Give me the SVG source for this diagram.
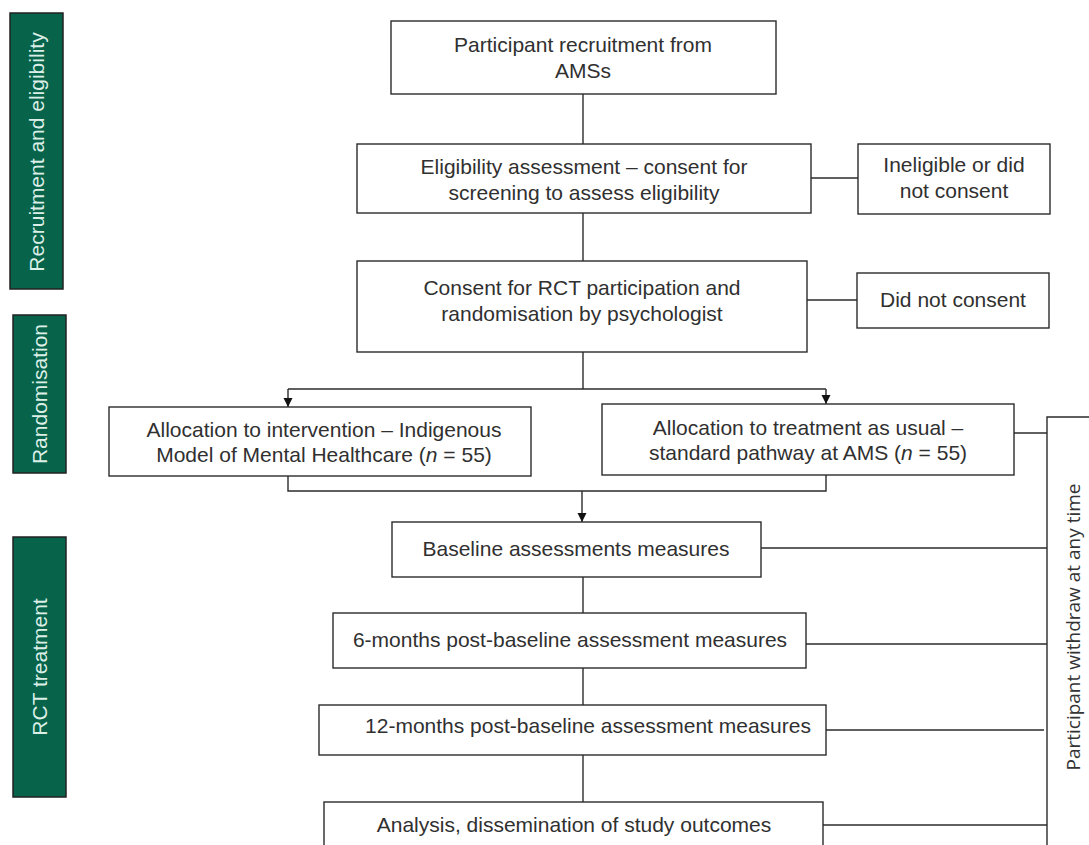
<svg xmlns="http://www.w3.org/2000/svg" width="1089" height="845" viewBox="0 0 1089 845">
<style>
.box{fill:#fff;stroke:#2b2b2b;stroke-width:1.4}
.phase{fill:#07634a;stroke:#222;stroke-width:1.5}
.t{font-family:"Liberation Sans",Arial,sans-serif;font-size:21px;fill:#303030;text-anchor:middle}
.pt{font-family:"Liberation Sans",Arial,sans-serif;font-size:21px;fill:#dcefe7;text-anchor:middle}
.wt{font-family:"Open Sans","Liberation Sans",sans-serif;font-size:19px;fill:#333;text-anchor:middle}
.c{fill:none;stroke:#2b2b2b;stroke-width:1.4}
</style>
<defs>
<marker id="ah" markerWidth="10" markerHeight="10" refX="9" refY="5" orient="auto" markerUnits="userSpaceOnUse">
<path d="M0,0.5 L9,5 L0,9.5 Z" fill="#111"/>
</marker>
</defs>
<rect width="1089" height="845" fill="#fff"/>

<g id="phase-recruitment">
<rect class="phase" x="10" y="13" width="53" height="276"/>
<text class="pt" transform="translate(43.5,152) rotate(-90)">Recruitment and eligibility</text>
</g>
<g id="phase-randomisation">
<rect class="phase" x="13" y="315" width="53" height="158"/>
<text class="pt" transform="translate(46.5,394) rotate(-90)">Randomisation</text>
</g>
<g id="phase-rct">
<rect class="phase" x="13" y="537" width="53" height="260"/>
<text class="pt" transform="translate(46.5,667) rotate(-90)">RCT treatment</text>
</g>

<g id="connectors">
<path class="c" d="M583,94 V144"/>
<path class="c" d="M583,213 V261"/>
<path class="c" d="M811,178 H858"/>
<path class="c" d="M807,300 H857"/>
<path class="c" d="M583,352 V389"/>
<path class="c" d="M288,389 H826"/>
<path class="c" d="M288,389 V407" marker-end="url(#ah)"/>
<path class="c" d="M826,389 V404" marker-end="url(#ah)"/>
<path class="c" d="M288,476 V491 H826 V475"/>
<path class="c" d="M582,491 V522" marker-end="url(#ah)"/>
<path class="c" d="M583,577 V613"/>
<path class="c" d="M583,668 V705"/>
<path class="c" d="M583,755 V802"/>
<path class="c" d="M1014,433 H1047"/>
<path class="c" d="M761,548 H1047"/>
<path class="c" d="M806,644 H1047"/>
<path class="c" d="M826,730 H1044"/>
<path class="c" d="M823,825 H1047"/>
</g>

<g id="n-recruitment">
<rect class="box" x="391" y="21" width="385" height="73"/>
<text class="t" x="583" y="52">Participant recruitment from</text>
<text class="t" x="583" y="78">AMSs</text>
</g>
<g id="n-eligibility">
<rect class="box" x="357" y="144" width="454" height="69"/>
<text class="t" x="584" y="174">Eligibility assessment – consent for</text>
<text class="t" x="584" y="200">screening to assess eligibility</text>
</g>
<g id="n-ineligible">
<rect class="box" x="858" y="144" width="192" height="70"/>
<text class="t" x="954" y="172">Ineligible or did</text>
<text class="t" x="954" y="198">not consent</text>
</g>
<g id="n-consent">
<rect class="box" x="357" y="261" width="450" height="91"/>
<text class="t" x="582" y="295">Consent for RCT participation and</text>
<text class="t" x="582" y="321">randomisation by psychologist</text>
</g>
<g id="n-did-not-consent">
<rect class="box" x="857" y="273" width="192" height="55"/>
<text class="t" x="953" y="307">Did not consent</text>
</g>
<g id="n-intervention">
<rect class="box" x="109" y="407" width="422" height="69"/>
<text class="t" x="324" y="437">Allocation to intervention – Indigenous</text>
<text class="t" x="324" y="462">Model of Mental Healthcare (<tspan font-style="italic">n</tspan> = 55)</text>
</g>
<g id="n-tau">
<rect class="box" x="602" y="404" width="412" height="71"/>
<text class="t" x="808" y="435">Allocation to treatment as usual –</text>
<text class="t" x="808" y="460">standard pathway at AMS (<tspan font-style="italic">n</tspan> = 55)</text>
</g>
<g id="n-baseline">
<rect class="box" x="392" y="522" width="369" height="55"/>
<text class="t" x="576" y="556">Baseline assessments measures</text>
</g>
<g id="n-6months">
<rect class="box" x="333" y="613" width="473" height="55"/>
<text class="t" x="570" y="647">6-months post-baseline assessment measures</text>
</g>
<g id="n-12months">
<rect class="box" x="319" y="705" width="507" height="50"/>
<text class="t" x="588" y="733">12-months post-baseline assessment measures</text>
</g>
<g id="n-analysis">
<rect class="box" x="324" y="802" width="499" height="60"/>
<text class="t" x="574" y="832">Analysis, dissemination of study outcomes</text>
</g>
<g id="n-withdraw">
<path class="c" d="M1095,417 H1047 V850"/>
<text class="wt" transform="translate(1080,627) rotate(-90)">Participant withdraw at any time</text>
</g>
</svg>
